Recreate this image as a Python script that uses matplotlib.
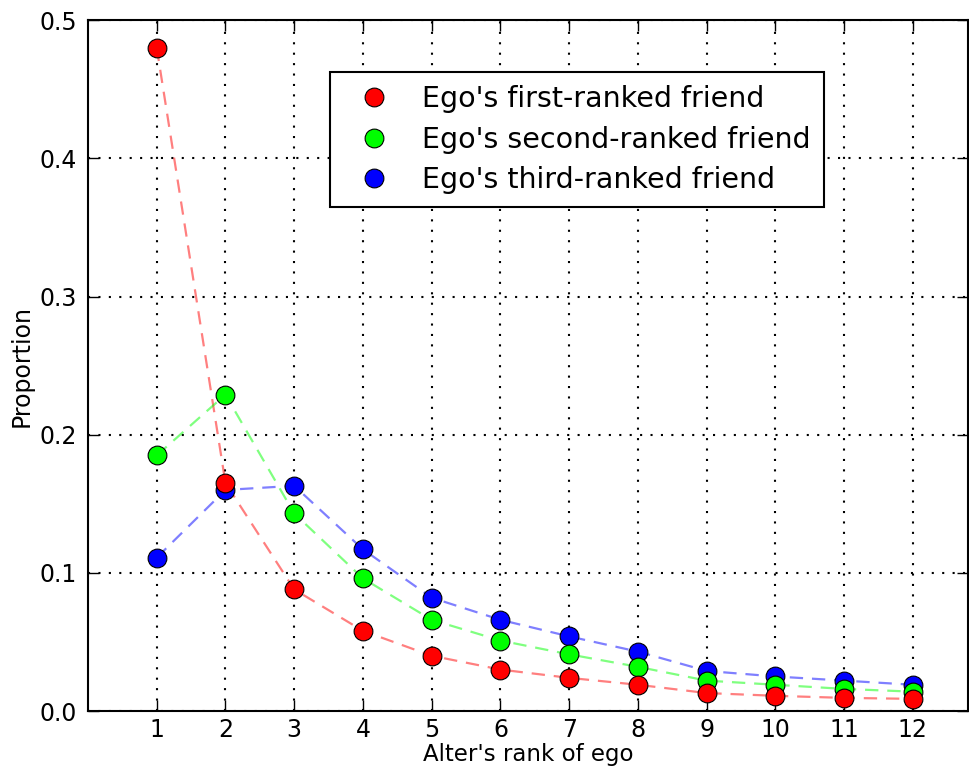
import numpy as np
import matplotlib
matplotlib.use('Agg')
import matplotlib.pyplot as plt
from matplotlib.lines import Line2D

ranks = list(range(1, 13))
first_ranked = [0.480, 0.165, 0.088, 0.058, 0.040, 0.030, 0.024, 0.019, 0.013, 0.011, 0.0095, 0.0088]
second_ranked = [0.185, 0.229, 0.143, 0.096, 0.066, 0.051, 0.041, 0.032, 0.022, 0.019, 0.016, 0.014]
third_ranked = [0.111, 0.160, 0.163, 0.117, 0.082, 0.066, 0.054, 0.043, 0.029, 0.025, 0.022, 0.019]
labels = ["Ego's first-ranked friend", "Ego's second-ranked friend", "Ego's third-ranked friend"]
colors = ['#ff0000', '#00ff00', '#0000ff']

fig = plt.figure(figsize=(9.69, 7.71), dpi=100)
ax = fig.add_axes([0.0908, 0.0778, 0.908, 0.896])

series = [first_ranked, second_ranked, third_ranked]
# dashed lines first, markers on top
for vals, c in zip(series, colors):
    ax.plot(ranks, vals, '--', color=c, alpha=0.5, lw=1.6, dashes=(6, 4), zorder=2)
for vals, c in zip(reversed(series), reversed(colors)):
    ax.plot(ranks, vals, 'o', color=c, markersize=13.5, markeredgecolor='black',
            markeredgewidth=0.8, linestyle='none', zorder=3)

ax.set_xlim(0, 12.8)
ax.set_ylim(0, 0.5)
ax.set_xticks(ranks)
ax.set_yticks([0.0, 0.1, 0.2, 0.3, 0.4, 0.5])
ax.set_yticklabels(['0.0', '0.1', '0.2', '0.3', '0.4', '0.5'])
ax.grid(True, color='black', linestyle=':', linewidth=1.5, dashes=(1, 4))
ax.set_axisbelow(True)
ax.tick_params(direction='in', length=8, width=1, labelsize=17, top=True, right=True)
ax.tick_params(axis='x', pad=5)
ax.tick_params(axis='y', pad=8)
for s in ax.spines.values():
    s.set_linewidth(1.5)

ax.set_xlabel("Alter's rank of ego", fontsize=16.5, labelpad=1)
ax.set_ylabel("Proportion", fontsize=17)

handles = [Line2D([], [], marker='o', linestyle='none', color=c, markersize=13.5,
                  markeredgecolor='black', markeredgewidth=0.8) for c in colors]
leg = ax.legend(handles, labels, loc='upper left', bbox_to_anchor=(0.275, 0.925),
                borderaxespad=0, fontsize=20.5, fancybox=False, framealpha=1,
                edgecolor='black', handlelength=2.2, handletextpad=0.6,
                labelspacing=0.45, borderpad=0.45)
leg.get_frame().set_linewidth(1.5)

fig.savefig('out.png', dpi=100)
